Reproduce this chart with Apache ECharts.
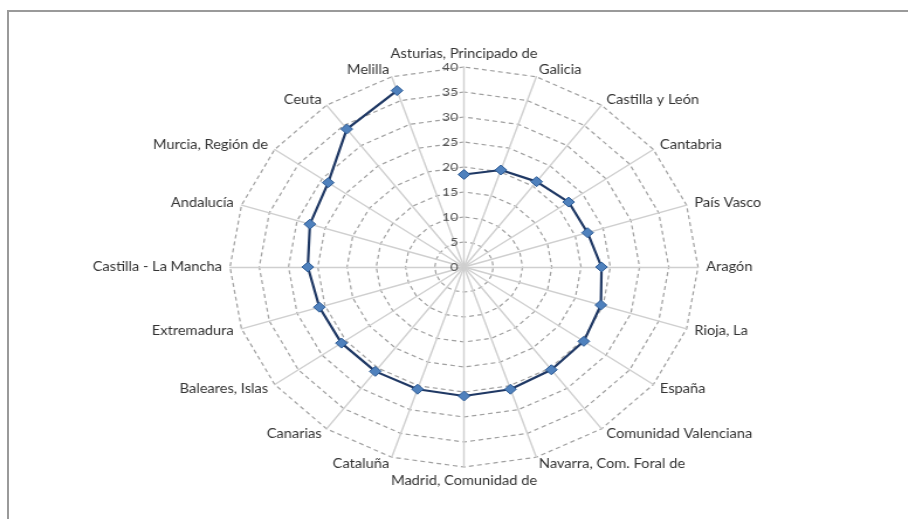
<!DOCTYPE html>
<html>
<head>
<meta charset="utf-8">
<script src="https://cdn.jsdelivr.net/npm/echarts@6/dist/echarts.min.js"></script>
<style>
  html, body { margin: 0; padding: 0; background: #fff; overflow: hidden; }
  #frame {
    position: absolute; left: 7px; top: 10px; right: -4px; bottom: -4px;
    border-top: 2px solid #9a9a9a; border-left: 2px solid #9a9a9a;
  }
  /* la imagen original está estirada en horizontal */
  #chart {
    position: absolute; left: 0; top: 0; width: 776px; height: 519px;
    transform: scaleX(1.17); transform-origin: 0 0;
  }
</style>
</head>
<body>
<div id="frame"></div>
<div id="chart"></div>
<script>
// regiones, en el orden de las agujas del reloj desde arriba
const regions = [
  'Asturias, Principado de', 'Galicia', 'Castilla y León', 'Cantabria', 'País Vasco',
  'Aragón', 'Rioja, La', 'España', 'Comunidad Valenciana', 'Navarra, Com. Foral de',
  'Madrid, Comunidad de', 'Cataluña', 'Canarias', 'Baleares, Islas', 'Extremadura',
  'Castilla - La Mancha', 'Andalucía', 'Murcia, Región de', 'Ceuta', 'Melilla'
];
const values = [
  18.5, 20.4, 21.1, 22.1, 22.2,
  23.5, 24.6, 25.3, 25.4, 25.7,
  25.8, 25.7, 25.8, 25.9, 26.0,
  26.7, 27.7, 28.7, 34.1, 37.1
];
const axisMax = 40;
const axisStep = 5;

const chart = echarts.init(document.getElementById('chart'), null, { renderer: 'canvas' });

// el radar de echarts va en sentido antihorario: se invierte el orden tras el primero
const order = [0].concat(regions.map((_, i) => i).slice(1).reverse());
const center = [396.6, 267];
const radius = 200;

const option = {
  animation: false,
  radar: {
    center: center,
    radius: radius,
    startAngle: 90,
    shape: 'polygon',
    splitNumber: axisMax / axisStep,
    axisName: {
      color: '#333',
      fontFamily: 'Lato',
      fontSize: 12.5
    },
    nameGap: 7,
    axisLine: { lineStyle: { color: '#cfcfcf', width: 1.4 } },
    splitLine: { lineStyle: { color: '#a0a0a0', type: [4, 3], width: 1.2 } },
    splitArea: { show: false },
    axisTick: { show: false },
    indicator: order.map((i) => ({
      name: regions[i],
      min: 0,
      max: axisMax,
      axisLabel: i === 0 ? {
        show: true, color: '#555', fontFamily: 'Lato', fontSize: 12, margin: 5, showMaxLabel: true
      } : undefined
    }))
  },
  // coordenadas polares invisibles para la línea abierta (sin cerrar Melilla-Asturias)
  polar: { center: center, radius: radius },
  angleAxis: {
    type: 'category',
    data: regions,
    startAngle: 90,
    clockwise: true,
    boundaryGap: false,
    show: false
  },
  radiusAxis: { type: 'value', min: 0, max: axisMax, show: false },
  series: [{
    type: 'line',
    coordinateSystem: 'polar',
    data: values,
    symbol: 'diamond',
    symbolSize: 10,
    showAllSymbol: true,
    itemStyle: { color: '#4f81bd', borderColor: '#2c5a94', borderWidth: 1 },
    lineStyle: { color: '#1f3864', width: 2.2 }
  }]
};

chart.setOption(option);
</script>
</body>
</html>
